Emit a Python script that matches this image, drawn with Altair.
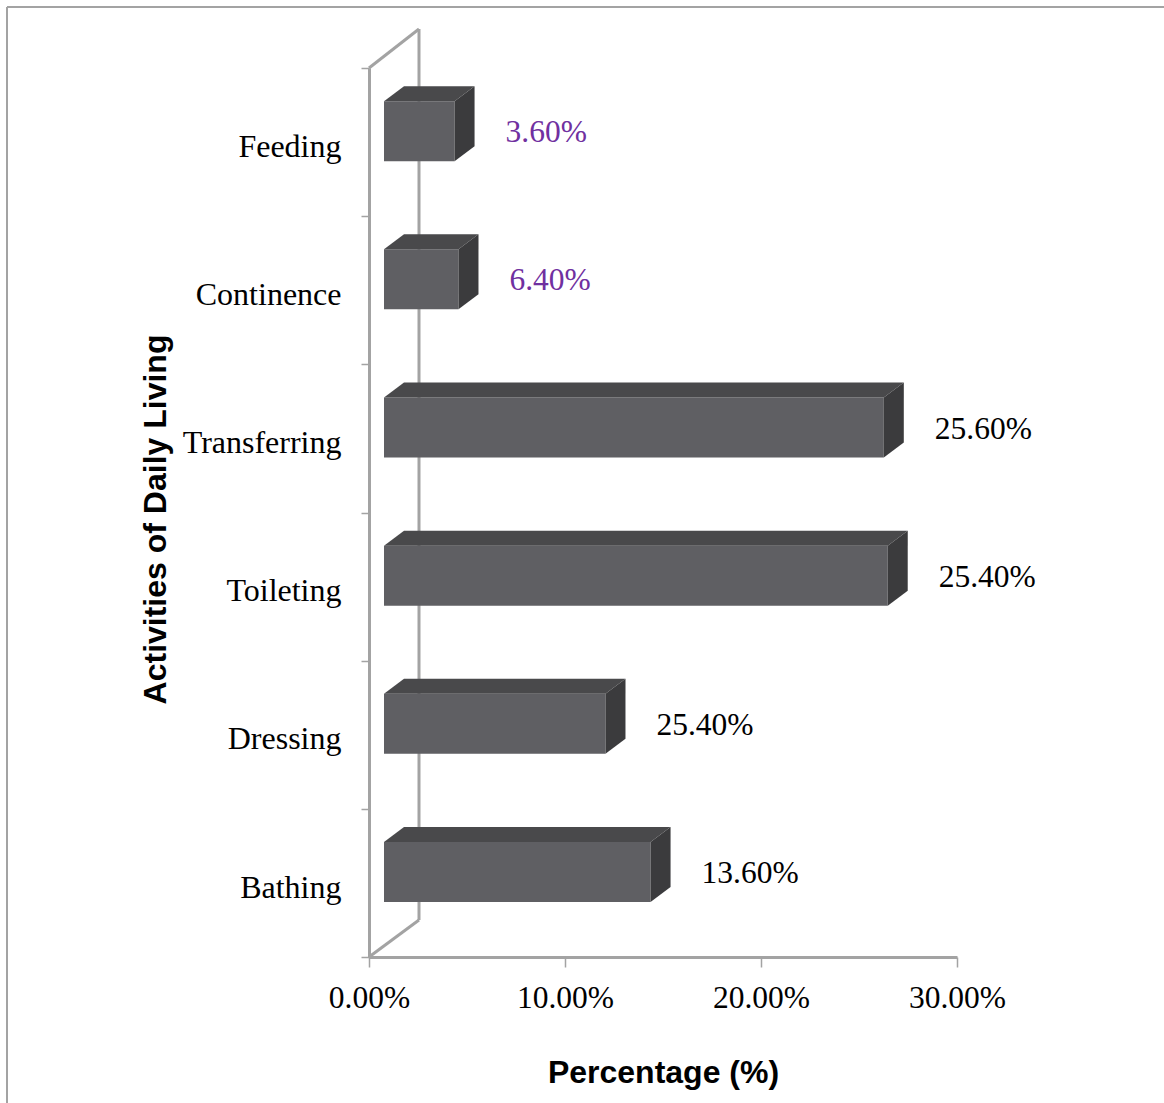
import json
import altair as alt
import pandas as pd

# ---- data (bottom to top) ----
categories = ["Bathing", "Dressing", "Toileting", "Transferring", "Continence", "Feeding"]
bar_values = [13.6, 11.3, 25.7, 25.5, 3.8, 3.6]          # drawn bar lengths (%)
label_values = [13.6, 25.4, 25.4, 25.6, 6.4, 3.6]        # printed data labels (%)
label_colors = ["#000000", "#000000", "#000000", "#000000", "#7030a0", "#7030a0"]
x_ticks = [0, 10, 20, 30]

# ---- geometry / style constants ----
W, H = 588, 889
XMAX, NB = 30, len(categories)
ux = XMAX / W            # data units per px (x)
uy = NB / H              # data units per px (y)
FRONT_SHIFT = 15         # px the front face is shifted right
DEPTH_X, DEPTH_Y = 20, 15
FACE_LO, FACE_HI = 55, 115
WALL_DX, WALL_DY_TOP, WALL_DY_BOT = 50, 39, 37
GRAY = "#a3a3a3"
FRONT_C, TOP_C, SIDE_C = "#5f5f63", "#49494b", "#3b3b3d"
SERIF = "Liberation Serif"
SANS = "Liberation Sans"

front, top, side, lbl = [], [], [], []
for i, (c, v, lv, col) in enumerate(zip(categories, bar_values, label_values, label_colors)):
    x0 = FRONT_SHIFT * ux
    x1 = v + FRONT_SHIFT * ux
    y0 = i + FACE_LO * uy
    y1 = i + FACE_HI * uy
    front.append(dict(cat=c, x0=x0, x1=x1, y0=y0, y1=y1))
    top += [dict(cat=c, y=y1, xa=x0, xb=x1),
            dict(cat=c, y=y1 + DEPTH_Y * uy, xa=x0 + DEPTH_X * ux, xb=x1 + DEPTH_X * ux)]
    side += [dict(cat=c, x=x1, ya=y0, yb=y1),
             dict(cat=c, x=x1 + DEPTH_X * ux, ya=y0 + DEPTH_Y * uy, yb=y1 + DEPTH_Y * uy)]
    lbl.append(dict(cat=c, v=v, y=(y0 + y1) / 2, text=f"{lv:.2f}%", color=col))

walls = pd.DataFrame([
    dict(x=0, y=NB, x2=WALL_DX * ux, y2=NB + WALL_DY_TOP * uy),
    dict(x=WALL_DX * ux, y=NB + WALL_DY_TOP * uy, x2=WALL_DX * ux, y2=WALL_DY_BOT * uy),
    dict(x=0, y=0, x2=WALL_DX * ux, y2=WALL_DY_BOT * uy),
])
frame = pd.DataFrame([
    dict(x=-362 * ux, y=NB + 61 * uy, x2=(1164 - 369) * ux, y2=NB + 61 * uy),
    dict(x=-362 * ux, y=NB + 61 * uy, x2=-362 * ux, y2=-146 * uy),
])

xs = alt.Scale(domain=[0, XMAX], nice=False, zero=False)
ys = alt.Scale(domain=[0, NB], nice=False, zero=False)

x_axis = alt.Axis(
    values=x_ticks, labelExpr="format(datum.value, '.2f') + '%'",
    labelFont=SERIF, labelFontSize=31.5, labelColor="black", labelPadding=15,
    labelFlush=False, labelOverlap=False,
    tickSize=10, tickColor=GRAY, tickWidth=1.5,
    domainColor=GRAY, domainWidth=3, grid=False,
    title="Percentage (%)", titleFont=SANS, titleFontWeight="bold", titleFontSize=32,
    titleColor="black", titleY=125, titleBaseline="alphabetic",
)
y_axis = alt.Axis(
    values=list(range(NB + 1)),
    labelExpr=f"datum.value < {NB} ? {json.dumps(categories)}[datum.value] : ''",
    labelOffset=-70, labelFont=SERIF, labelFontSize=32, labelColor="black",
    labelPadding=20, labelOverlap=False,
    tickSize=8, tickColor=GRAY, tickWidth=1.5,
    domainColor=GRAY, domainWidth=3, grid=False,
    title="Activities of Daily Living", titleFont=SANS, titleFontWeight="bold",
    titleFontSize=32, titleColor="black", titleX=-204, titleY=451, titleAngle=270,
    titleBaseline="alphabetic",
)


def X(field):
    return alt.X(field, scale=xs, axis=x_axis)


def Y(field):
    return alt.Y(field, scale=ys, axis=y_axis)


frame_layer = alt.Chart(frame).mark_rule(color=GRAY, strokeWidth=2).encode(
    x=X("x:Q"), x2="x2", y=Y("y:Q"), y2="y2")

wall_layer = alt.Chart(walls).mark_rule(color=GRAY, strokeWidth=3).encode(
    x=X("x:Q"), x2="x2", y=Y("y:Q"), y2="y2")

front_layer = alt.Chart(pd.DataFrame(front)).mark_rect(color=FRONT_C).encode(
    x=X("x0:Q"), x2="x1", y=Y("y0:Q"), y2="y1")

top_layer = alt.Chart(pd.DataFrame(top)).mark_area(orient="horizontal", color=TOP_C).encode(
    y=Y("y:Q"), x=X("xa:Q"), x2="xb", detail="cat:N")

side_layer = alt.Chart(pd.DataFrame(side)).mark_area(orient="vertical", color=SIDE_C).encode(
    x=X("x:Q"), y=Y("ya:Q"), y2="yb", detail="cat:N")

label_layer = alt.Chart(pd.DataFrame(lbl)).mark_text(
    align="left", baseline="middle", dx=66, dy=2, font=SERIF, fontSize=31.5).encode(
    x=X("v:Q"), y=Y("y:Q"), text="text:N", color=alt.Color("color:N", scale=None))

chart = alt.layer(frame_layer, wall_layer, front_layer, top_layer, side_layer, label_layer).properties(
    width=W, height=H,
    autosize=alt.AutoSizeParams(type="none"),
    padding={"left": 369, "top": 68, "right": 1164 - 369 - W, "bottom": 1103 - 68 - H},
    background="white",
).configure_view(strokeWidth=0)

chart.save("out.html", embed_options={"renderer": "svg", "actions": False})
